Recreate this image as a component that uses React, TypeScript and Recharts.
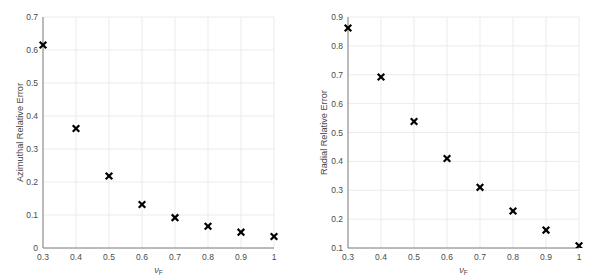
import { ScatterChart, Scatter, XAxis, YAxis, CartesianGrid, Label } from 'recharts'

const NU_F = [0.3, 0.4, 0.5, 0.6, 0.7, 0.8, 0.9, 1]
const AZIMUTHAL_ERR = [0.615, 0.362, 0.218, 0.132, 0.092, 0.066, 0.048, 0.035]
const RADIAL_ERR = [0.862, 0.692, 0.538, 0.41, 0.31, 0.228, 0.162, 0.108]

const X_TICKS = [0.3, 0.4, 0.5, 0.6, 0.7, 0.8, 0.9, 1]
const AZ_TICKS = [0, 0.1, 0.2, 0.3, 0.4, 0.5, 0.6, 0.7]
const RAD_TICKS = [0.1, 0.2, 0.3, 0.4, 0.5, 0.6, 0.7, 0.8, 0.9]

const FONT = '"Liberation Sans", Arial, sans-serif'
const TEXT_COLOR = '#4a4a4a'
const TICK_STYLE = { fontSize: 8.5, fill: TEXT_COLOR, fontFamily: FONT }
const AXIS_LINE = { stroke: '#808080', strokeWidth: 1 }

// bold black "x" marker like matlab
const Cross = (props: any) => {
      const { cx, cy } = props
      const r = 2.5
      return (
            <g stroke="#000" strokeWidth={2.2} strokeLinecap="square">
                  <line x1={cx - r} y1={cy - r} x2={cx + r} y2={cy + r} />
                  <line x1={cx - r} y1={cy + r} x2={cx + r} y2={cy - r} />
            </g>
      )
}

// y tick labels drawn right-aligned just left of the axis
const YTick = ({ x, y, payload }: any) => (
      <text x={x} y={y} textAnchor="end" dominantBaseline="central" fontSize={8.5} fill={TEXT_COLOR} fontFamily={FONT}>
            {String(payload.value)}
      </text>
)

const XLabel = ({ viewBox }: any) => {
      const cx = viewBox.x + viewBox.width / 2
      return (
            <text x={cx} y={viewBox.y + 25} textAnchor="middle" fontSize={9.2} fill={TEXT_COLOR} fontFamily={FONT}>
                  <tspan fontStyle="italic">ν</tspan>
                  <tspan fontSize={6.5} dy={2}>F</tspan>
            </text>
      )
}

const yLabel = (text: string, x: number) => ({ viewBox }: any) => {
      const cy = viewBox.y + viewBox.height / 2
      return (
            <text
                  x={x}
                  y={cy}
                  transform={`rotate(-90 ${x} ${cy})`}
                  textAnchor="middle"
                  dominantBaseline="central"
                  fontSize={9.2}
                  fill={TEXT_COLOR}
                  fontFamily={FONT}
            >
                  {text}
            </text>
      )
}

const ErrorPanel = ({
      values,
      ticks,
      domain,
      title,
      width,
      yAxisWidth,
      rightMargin,
      labelX,
}: {
      values: number[]
      ticks: number[]
      domain: [number, number]
      title: string
      width: number
      yAxisWidth: number
      rightMargin: number
      labelX: number
}) => {
      const data = NU_F.map((x, i) => ({ x, y: values[i] }))
      return (
            <ScatterChart width={width} height={278} margin={{ top: 17, right: rightMargin, bottom: 0, left: 0 }}>
                  <CartesianGrid stroke="#ebebeb" strokeWidth={1} verticalValues={X_TICKS} horizontalValues={ticks} />
                  <XAxis
                        type="number"
                        dataKey="x"
                        domain={[0.3, 1]}
                        ticks={X_TICKS}
                        tickFormatter={(v) => String(v)}
                        tick={TICK_STYLE}
                        tickLine={false}
                        tickSize={0}
                        axisLine={AXIS_LINE}
                        height={30}
                        tickMargin={6}
                        interval={0}
                  >
                        <Label content={<XLabel />} />
                  </XAxis>
                  <YAxis
                        type="number"
                        dataKey="y"
                        domain={domain}
                        ticks={ticks}
                        tick={<YTick />}
                        tickLine={false}
                        tickSize={0}
                        axisLine={AXIS_LINE}
                        width={yAxisWidth}
                        tickMargin={5}
                        interval={0}
                        allowDataOverflow
                  >
                        <Label content={yLabel(title, labelX)} />
                  </YAxis>
                  <Scatter data={data} shape={<Cross />} isAnimationActive={false} />
            </ScatterChart>
      )
}

export default function App() {
      return (
            <div style={{ position: 'absolute', left: 0, top: 0, width: 598, height: 278, background: '#fff' }}>
                  <div style={{ position: 'absolute', left: 0, top: 0 }}>
                        <ErrorPanel
                              values={AZIMUTHAL_ERR}
                              ticks={AZ_TICKS}
                              domain={[0, 0.7]}
                              title="Azimuthal Relative Error"
                              width={300}
                              yAxisWidth={43}
                              rightMargin={26}
                              labelX={20}
                        />
                  </div>
                  <div style={{ position: 'absolute', left: 300, top: 0 }}>
                        <ErrorPanel
                              values={RADIAL_ERR}
                              ticks={RAD_TICKS}
                              domain={[0.1, 0.9]}
                              title="Radial Relative Error"
                              width={298}
                              yAxisWidth={48}
                              rightMargin={19}
                              labelX={24}
                        />
                  </div>
            </div>
      )
}
